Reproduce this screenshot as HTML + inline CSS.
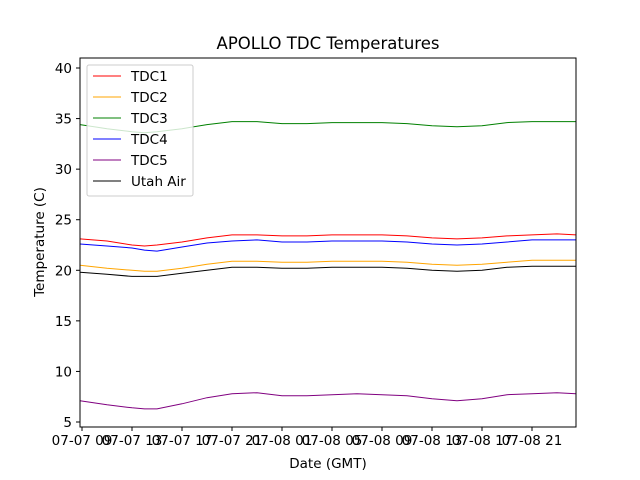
<!DOCTYPE html>
<html><head><meta charset="utf-8"><style>
body{margin:0;background:#fff}
svg{display:block;font-family:"DejaVu Sans","Liberation Sans",sans-serif}
</style></head><body>
<svg id="chart" width="640" height="480" viewBox="0 0 640 480">
<rect width="640" height="480" fill="#fff"/>
<text x="328" y="49" font-size="16.5" text-anchor="middle">APOLLO TDC Temperatures</text>
<g id="series"></g>
<g id="axes"></g>
<rect x="80" y="58" width="496" height="369" fill="none" stroke="#000" stroke-width="1"/>
<text x="328" y="468" font-size="13.5" text-anchor="middle">Date (GMT)</text>
<text transform="translate(44,242) rotate(-90)" font-size="13.5" text-anchor="middle">Temperature (C)</text>
<g id="legend"></g>
</svg>
<script>
const hours=[8.84,11,13,14,15,17,19,21,23,25,27,29,31,33,35,37,39,41,43,45,47,48.52];
const tdc1=[23.1,22.9,22.5,22.4,22.5,22.8,23.2,23.5,23.5,23.4,23.4,23.5,23.5,23.5,23.4,23.2,23.1,23.2,23.4,23.5,23.6,23.5];
const tdc2=[20.5,20.2,20.0,19.9,19.9,20.2,20.6,20.9,20.9,20.8,20.8,20.9,20.9,20.9,20.8,20.6,20.5,20.6,20.8,21.0,21.0,21.0];
const tdc3=[34.4,34.0,33.7,33.6,33.7,34.0,34.4,34.7,34.7,34.5,34.5,34.6,34.6,34.6,34.5,34.3,34.2,34.3,34.6,34.7,34.7,34.7];
const tdc4=[22.6,22.4,22.2,22.0,21.9,22.3,22.7,22.9,23.0,22.8,22.8,22.9,22.9,22.9,22.8,22.6,22.5,22.6,22.8,23.0,23.0,23.0];
const tdc5=[7.1,6.7,6.4,6.3,6.3,6.8,7.4,7.8,7.9,7.6,7.6,7.7,7.8,7.7,7.6,7.3,7.1,7.3,7.7,7.8,7.9,7.8];
const utahAir=[19.8,19.6,19.4,19.4,19.4,19.7,20.0,20.3,20.3,20.2,20.2,20.3,20.3,20.3,20.2,20.0,19.9,20.0,20.3,20.4,20.4,20.4];
const xTickHours=[9,13,17,21,25,29,33,37,41,45];
const xTickLabels=["07-07 09","07-07 13","07-07 17","07-07 21","07-08 01","07-08 05","07-08 09","07-08 13","07-08 17","07-08 21"];
const yTicks=[5,10,15,20,25,30,35,40];
const seriesNames=["TDC1","TDC2","TDC3","TDC4","TDC5","Utah Air"];
const seriesColors=["#ff0000","#ffa500","#008000","#0000ff","#800080","#000000"];
const seriesData=[tdc1,tdc2,tdc3,tdc4,tdc5,utahAir];
const NS="http://www.w3.org/2000/svg";
const x=h=>82+(h-9)*12.5;
const y=v=>422-(v-5)*10.114;
const sg=document.getElementById('series');
const drawOrder=[2,0,3,1,5,4];
drawOrder.forEach(i=>{
  const p=document.createElementNS(NS,'polyline');
  p.setAttribute('points',hours.map((h,j)=>x(h).toFixed(1)+','+y(seriesData[i][j]).toFixed(1)).join(' '));
  p.setAttribute('fill','none');p.setAttribute('stroke',seriesColors[i]);p.setAttribute('stroke-width','1');
  
  
  sg.appendChild(p);
});
const ax=document.getElementById('axes');
xTickHours.forEach((h,i)=>{
  const t=document.createElementNS(NS,'line');
  t.setAttribute('x1',x(h));t.setAttribute('x2',x(h));t.setAttribute('y1',427);t.setAttribute('y2',431);t.setAttribute('stroke','#000');
  
  
  ax.appendChild(t);
  const l=document.createElementNS(NS,'text');
  l.setAttribute('x',x(h));l.setAttribute('y',445);l.setAttribute('font-size','13.5');l.setAttribute('text-anchor','middle');
  l.textContent=xTickLabels[i];
  
  
  ax.appendChild(l);
});
yTicks.forEach(v=>{
  const t=document.createElementNS(NS,'line');
  t.setAttribute('x1',76);t.setAttribute('x2',80);t.setAttribute('y1',y(v));t.setAttribute('y2',y(v));t.setAttribute('stroke','#000');
  
  
  ax.appendChild(t);
  const l=document.createElementNS(NS,'text');
  l.setAttribute('x',72);l.setAttribute('y',y(v)+5);l.setAttribute('font-size','13.5');l.setAttribute('text-anchor','end');
  l.textContent=v;
  
  
  ax.appendChild(l);
});
const lg=document.getElementById('legend');
const box=document.createElementNS(NS,'rect');
box.setAttribute('x',87);box.setAttribute('y',65);box.setAttribute('width',106);box.setAttribute('height',131);box.setAttribute('rx',2);
box.setAttribute('fill','rgba(255,255,255,0.8)');box.setAttribute('stroke','#ccc');


lg.appendChild(box);
seriesNames.forEach((n,i)=>{
  const yy=76+i*21;
  const ln=document.createElementNS(NS,'line');
  ln.setAttribute('x1',93);ln.setAttribute('x2',121);ln.setAttribute('y1',yy);ln.setAttribute('y2',yy);ln.setAttribute('stroke',seriesColors[i]);
  
  
  lg.appendChild(ln);
  const t=document.createElementNS(NS,'text');
  t.setAttribute('x',131);t.setAttribute('y',yy+5);t.setAttribute('font-size','13.5');t.textContent=n;
  
  
  lg.appendChild(t);
});
</script>
</body></html>
